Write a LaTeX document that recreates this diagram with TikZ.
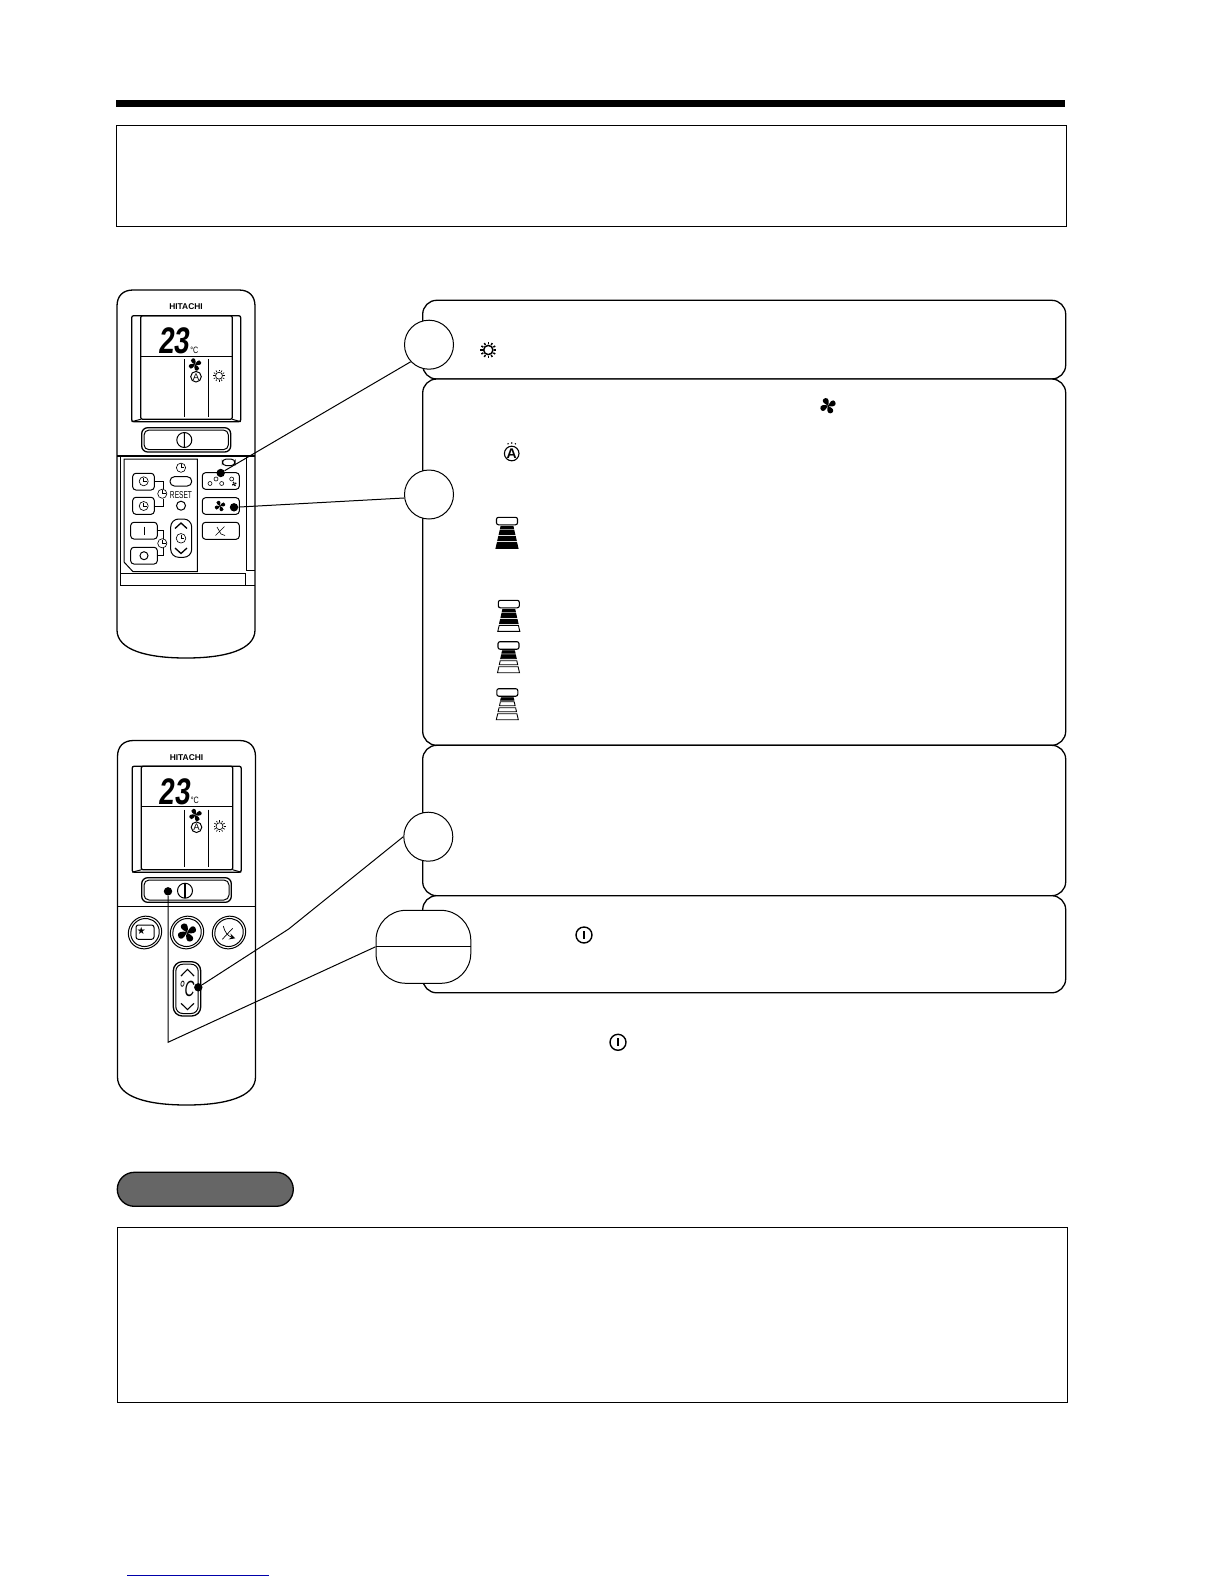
\documentclass[tikz,border=0pt]{standalone}
\usepackage{fontspec}
\setmainfont{Liberation Sans}
\newfontfamily\lcdfont[UprightFont=* Bold,FakeSlant=.12,FakeStretch=.75]{Liberation Sans}
\newfontfamily\slantfont[FakeSlant=.2]{Liberation Sans}
\newfontfamily\symbolfont{DejaVu Sans}
\tikzset{
  outline/.style={draw=black,line width=.65pt},
  thinline/.style={draw=black,line width=.5pt},
  framebox/.style={draw=black,line width=.75pt,fill=white},
  panel/.style={draw=black,line width=.65pt,fill=white,rounded corners=7pt},
  callout/.style={circle,draw=black,line width=.5pt,fill=white,minimum size=24.5pt,inner sep=0pt},
  oval/.style={rectangle,draw=black,line width=.5pt,fill=white,minimum width=47.4pt,minimum height=36.5pt,rounded corners=15pt,inner sep=0pt},
  dot/.style={circle,fill=black,minimum size=4.2pt,inner sep=0pt},
  leader/.style={draw=black,line width=.5pt},
  btn/.style={thinline,rounded corners=1.6pt},
  pics/fanic/.style={code={
    \foreach \a in {0,90,180,270}{
      \fill[black,rotate=\a+12] (0,0) .. controls (-.28,.35) and (-.3,1) .. (.12,1) .. controls (.55,1) and (.62,.62) .. (.38,.38) .. controls (.26,.25) and (.12,.12) .. (0,0);
    }
  }},
  pics/sunic/.style={code={
    \draw[line width=#1] (0,0) circle (.58);
    \foreach \a in {0,30,...,330}{ \draw[line width=#1] (\a:.72) -- (\a:1); }
  }},
  pics/clockic/.style={code={
    \draw[thinline,line width=.32pt] (0,0) circle (1);
    \draw[thinline,line width=.32pt] (0,-.75) -- (0,0) -- (.7,0);
  }},
  pics/onoffic/.style={code={
    \draw[line width=.7pt] (0,0) circle (8);
    \draw[line width=1.1pt] (0,-4) -- (0,4);
  }},
  pics/towerstack/.style={code={
    \draw[line width=.55pt,rounded corners=1pt,fill=white] (-10.5,0) rectangle (10.5,7.5);
    \foreach \i/\ya/\wa/\yb/\wb in {1/9/6/11.5/6.6,2/13/6.9/17/7.8,3/19/8.3/23/9.2,4/25/9.6/31/11}{
      \ifnum\i>#1 \def\bandcol{white}\else\def\bandcol{black}\fi
      \path[draw=black,line width=.45pt,fill=\bandcol] (-\wa,\ya) -- (\wa,\ya) -- (\wb,\yb) -- (-\wb,\yb) -- cycle;
    }
  }},
  pics/remotetop/.style={code={
    \pgfmathsetmacro\bb{#1}\pgfmathsetmacro\bc{#1-28}\pgfmathsetmacro\bd{#1-8}
    \draw[outline,fill=white] (0,16) .. controls (0,6) and (6,0) .. (16,0) -- (122,0) .. controls (132,0) and (138,6) .. (138,16) -- (138,\bc) .. controls (138,\bd) and (108,\bb) .. (69,\bb) .. controls (30,\bb) and (0,\bd) .. (0,\bc) -- cycle;
    \node[font=\bfseries\fontsize{4.2}{5}\selectfont,inner sep=0pt] (hitachi) at (69,17) {HITACHI};
    \draw[outline,rounded corners=1pt] (14.7,25.7) rectangle (123.7,131.7);
    \draw[outline,rounded corners=1pt] (23.7,25.7) rectangle (115.3,129.3);
    \draw[thinline] (14.7,131.7) -- (23.7,129.3) (123.7,131.7) -- (115.3,129.3);
    \draw[thinline] (23.7,66) -- (115.3,66);
    \draw[thinline] (67.3,69) -- (67.3,126.7) (91.3,69) -- (91.3,126.7);
    \node[font=\lcdfont\fontsize{18.5}{18}\selectfont,inner sep=0pt] (lcd) at (56.8,51) {23};
    \node[font=\fontsize{4.6}{5}\selectfont,xscale=.78,inner sep=0pt] (unit) at (77.3,60) {°C};
    \pic[scale=6.5] at (78,74.5) {fanic};
    \draw[thinline] (79,86.7) circle (5.3);
    \node[font=\fontsize{4.8}{5}\selectfont,inner sep=0pt] (autoa) at (79,86.9) {A};
    \pic[scale=6] at (102,85.7) {sunic=.35pt};
  }},
}
\begin{document}
\begin{tikzpicture}[x=.5pt,y=-.5pt]
\useasboundingbox (0,0) rectangle (1224,1584);
\fill[white] (0,0) rectangle (1224,1584);

% header
\fill[black] (116,100) rectangle (1065,106.7);
\draw[framebox] (116.5,125.3) rectangle (1066.3,226.3);

% panels
\draw[panel] (422.7,300.3) rectangle (1065.7,379);
\draw[panel] (422.7,379) rectangle (1065.7,745.3);
\draw[panel] (422.7,745.3) rectangle (1065.7,895.7);
\draw[panel] (422.7,895.7) rectangle (1065.7,992.8);

% panel icons
\pic[scale=8] at (488.3,350) {sunic=.75pt};
\pic[scale=8] at (828,405.7) {fanic};
\draw[line width=.55pt] (511.7,453.5) circle (7.3);
\node[font=\bfseries\fontsize{7}{7}\selectfont,inner sep=0pt] (autob) at (511.7,454) {A};
\fill (508,443.8) circle (.8) (511.7,443) circle (.8) (515.4,443.8) circle (.8);
\pic at (507,517.3) {towerstack=4};
\pic at (508.8,600.3) {towerstack=3};
\pic at (508.5,641.7) {towerstack=2};
\pic at (507.3,688.7) {towerstack=1};
\pic at (584,935) {onoffic};
\pic at (618,1042.3) {onoffic};

% remote 1
\pic at (117,290) {remotetop=368};
\draw[outline,rounded corners=3pt] (141.7,427.7) rectangle (230.7,452);
\draw[thinline,rounded corners=2.5pt] (144,430) rectangle (228.4,449.7);
\draw[thinline] (184.3,440) circle (7.5) (184.3,432.5) -- (184.3,447.5);
\draw[outline] (117,456) -- (255,456);
\draw[thinline] (120.7,456) -- (120.7,585) -- (255,585);
\draw[thinline] (120.7,573.3) -- (245,573.3) -- (245,585);
\draw[thinline] (246.7,456.7) -- (246.7,570) -- (255,570);
\draw[thinline] (124,459) -- (197.3,459) -- (197.3,571.7) -- (133,571.7) -- (124,562) -- cycle;
% timer controls
\draw[btn] (132.7,473.3) rectangle (154.3,490);
\draw[btn] (132.7,497.3) rectangle (154.3,514.3);
\pic[scale=4.5] at (143.7,481.3) {clockic};
\pic[scale=4.5] at (143.7,506) {clockic};
\draw[line width=.25pt] (154.3,481.3) -- (163,481.3) -- (163,489) (163,498.5) -- (163,506) -- (154.3,506);
\pic[scale=4.6] at (162.3,493.7) {clockic};
\pic[scale=4.6] at (181,467.7) {clockic};
\draw[thinline,rounded corners=2.2pt] (170,476.7) rectangle (191.7,486);
\node[font=\fontsize{5}{5}\selectfont,xscale=.66,inner sep=0pt] (resetlabel) at (181,495) {RESET};
\draw[thinline] (181,505.7) circle (4.5);
\draw[btn] (130.7,522.3) rectangle (157.3,539);
\draw[thinline] (144,526.5) -- (144,535);
\draw[btn] (130.7,547.3) rectangle (157.3,564);
\draw[thinline] (144,555.7) circle (4);
\draw[line width=.25pt] (157.3,530.7) -- (163,530.7) -- (163,538.5) (163,548) -- (163,555.7) -- (157.3,555.7);
\pic[scale=4.6] at (162.3,543.3) {clockic};
\draw[thinline,rounded corners=4pt] (170.7,519) rectangle (191.7,557.3);
\draw[line width=.65pt] (175,528.5) -- (181,523) -- (187,528.5) (175,548) -- (181,553.5) -- (187,548);
\pic[scale=4.8] at (181,538.3) {clockic};
% right column buttons
\draw[thinline,rounded corners=2pt] (222.3,459) rectangle (235,465.7);
\draw[btn] (202.3,472.7) rectangle (239.3,489.3);
\draw[btn] (202.3,497.7) rectangle (239.3,514.3);
\draw[btn] (202.3,522.3) rectangle (239.3,539.3);
\foreach \mx/\my in {210/483.5,216/479,221.7/483.5,231.7/479}{
  \draw[line width=.3pt] (\mx,\my) circle (2);
}
\pic[scale=2.4] at (234.3,484) {fanic};
\pic[scale=5.5] at (220,506) {fanic};
\draw[line width=.3pt] (215.5,535.5) -- (224.5,526.5) (217,527) -- (221,534) -- (225,535.5);

% remote 2
\pic at (117.5,740.5) {remotetop=364.5};
\draw[outline,rounded corners=3pt] (141.7,877.7) rectangle (231.3,902.3);
\draw[thinline,rounded corners=2.5pt] (144,880) rectangle (229,900);
\draw[thinline] (185,890.7) circle (7.5);
\draw[line width=.6pt] (185,883.2) -- (185,898.2);
\draw[outline] (117.5,906.3) -- (256,906.3);
% round keys
\draw[thinline,rotate around={35:(145,932.5)}] (145,932.5) ellipse (17 and 16);
\draw[thinline,rotate around={35:(145,932.5)}] (145,932.5) ellipse (14.5 and 13.8);
\draw[thinline,rounded corners=1.2pt] (136,925) rectangle (154,939.3);
\node[font=\symbolfont\fontsize{5}{5}\selectfont,inner sep=0pt] (starmark) at (141.3,931) {★};
\draw[thinline,rotate around={35:(187,932.5)}] (187,932.5) ellipse (17 and 16);
\draw[thinline,rotate around={35:(187,932.5)}] (187,932.5) ellipse (14.5 and 13.8);
\pic[scale=9.5] at (187,932.5) {fanic};
\draw[thinline,rotate around={35:(229,932.5)}] (229,932.5) ellipse (17 and 16);
\draw[thinline,rotate around={35:(229,932.5)}] (229,932.5) ellipse (14.5 and 13.8);
\draw[line width=.35pt] (222.3,939.3) -- (232.7,928.3);
\draw[line width=.35pt,-stealth] (223.3,926) .. controls (224.5,932) and (228,936) .. (235.3,938.3);
% temperature key
\draw[outline,rounded corners=4.5pt] (173.3,961.7) rectangle (200.7,1016);
\draw[thinline,rounded corners=3.5pt] (175.8,964.2) rectangle (198.2,1013.5);
\draw[line width=.55pt] (181,976) -- (187.5,969.3) -- (194,976) (181,1003.3) -- (187.5,1009.5) -- (194,1003.3);
\node[font=\slantfont\fontsize{11}{11}\selectfont,xscale=.62,inner sep=0pt] (tempunit) at (186,989) {°C};

% callouts
\node[callout] (c1) at (429,344.7) {};
\node[callout] (c2) at (429,494.5) {};
\node[callout] (c3) at (428.3,836.7) {};
\node[oval] (st) at (423.4,946.8) {};
\node[dot] (d1) at (220.7,473) {};
\node[dot] (d2) at (234,507.3) {};
\node[dot] (d3) at (198.3,987.3) {};
\node[dot] (d4) at (168,891.3) {};
\coordinate (k3) at (288.7,929);
\coordinate (k4) at (168,1042.3);
\draw[leader] (st.west) -- (st.east);
\draw[leader] (c1.223) -- (d1);
\draw[leader] (c2.188) -- (d2);
\draw[leader] (c3.west) -- (k3) -- (d3);
\draw[leader] (st.west) -- (k4) -- (d4);

% note tab and box
\draw[draw=black,line width=.65pt,fill=black!60,rounded corners=8.5pt] (117.3,1172.3) rectangle (293.3,1206.3);
\draw[framebox] (117.3,1227.3) rectangle (1067.7,1402.3);

% footer rule
\draw[draw={rgb,255:red,0;green,0;blue,170},line width=.5pt] (127,1575.3) -- (269,1575.3);
\end{tikzpicture}
\end{document}
